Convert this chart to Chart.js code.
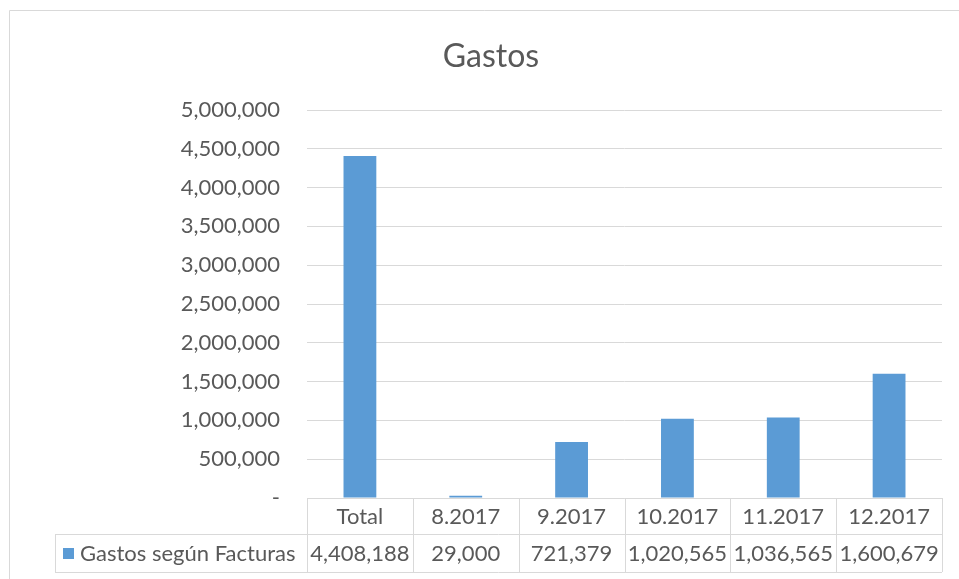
<!DOCTYPE html>
<html>
<head>
<meta charset="utf-8">
<script src="https://cdn.jsdelivr.net/npm/chart.js@4"></script>
<style>
  html, body { margin: 0; padding: 0; background: #fff; }
  #wrap { width: 959px; height: 579px; }
</style>
</head>
<body>
<div id="wrap"><canvas id="gastosChart" width="959" height="579"></canvas></div>
<script>
// Data
const chartTitle = 'Gastos';
const seriesName = 'Gastos según Facturas';
const categories = ['Total', '8.2017', '9.2017', '10.2017', '11.2017', '12.2017'];
const gastos = [4408188, 29000, 721379, 1020565, 1036565, 1600679];
const yMax = 5000000;
const yStep = 500000;

const BAR_COLOR = '#5B9BD5';
const GRID_COLOR = '#d9d9d9';
const TEXT_COLOR = '#595959';
const FONT = 'Lato, "Open Sans", sans-serif';

Chart.defaults.font.family = FONT;
Chart.defaults.color = TEXT_COLOR;

const fmt = v => v.toLocaleString('en-US');

// Frame, title and the data table under the plot
const tablePlugin = {
    id: 'excelTable',
    afterDraw(chart) {
        const ctx = chart.ctx;
        const x = chart.scales.x;
        const area = chart.chartArea;
        const n = categories.length;
        const cellW = (area.right - area.left) / n;
        const top = area.bottom;
        const mid = top + 36;
        const bottom = top + 74;
        const keyLeft = 55;

        ctx.save();
        // outer chart frame
        ctx.strokeStyle = GRID_COLOR;
        ctx.lineWidth = 1;
        ctx.beginPath();
        ctx.moveTo(9.5, 579);
        ctx.lineTo(9.5, 10.5);
        ctx.lineTo(959, 10.5);
        ctx.stroke();

        // title
        ctx.fillStyle = TEXT_COLOR;
        ctx.font = '32px ' + FONT;
        ctx.textAlign = 'center';
        ctx.textBaseline = 'middle';
        ctx.fillText(chartTitle, 491, 57);

        // table lines
        ctx.strokeStyle = GRID_COLOR;
        ctx.beginPath();
        ctx.moveTo(area.left, top + 0.5);
        ctx.lineTo(area.right, top + 0.5);
        ctx.moveTo(keyLeft, mid + 0.5);
        ctx.lineTo(area.right, mid + 0.5);
        ctx.moveTo(keyLeft, bottom + 0.5);
        ctx.lineTo(area.right, bottom + 0.5);
        ctx.moveTo(keyLeft + 0.5, mid);
        ctx.lineTo(keyLeft + 0.5, bottom);
        for (let i = 0; i <= n; i++) {
            const bx = Math.round(area.left + i * cellW) + 0.5;
            ctx.moveTo(bx, top);
            ctx.lineTo(bx, bottom);
        }
        ctx.stroke();

        // header and values
        ctx.font = '22px ' + FONT;
        ctx.fillStyle = TEXT_COLOR;
        ctx.textAlign = 'center';
        categories.forEach((c, i) => {
            const cx = x.getPixelForValue(i);
            ctx.fillText(c, cx, (top + mid) / 2 + 1);
            ctx.fillText(fmt(gastos[i]), cx, (mid + bottom) / 2 + 1);
        });

        // legend key + series name
        ctx.fillStyle = BAR_COLOR;
        ctx.fillRect(63, (mid + bottom) / 2 - 5, 11, 11);
        ctx.fillStyle = TEXT_COLOR;
        ctx.textAlign = 'left';
        ctx.fillText(seriesName, 80, (mid + bottom) / 2 + 1);
        ctx.restore();
    }
};

new Chart(document.getElementById('gastosChart'), {
    type: 'bar',
    data: {
        labels: categories,
        datasets: [{
            label: seriesName,
            data: gastos,
            backgroundColor: BAR_COLOR,
            categoryPercentage: 1,
            barPercentage: 0.31
        }]
    },
    options: {
        responsive: false,
        animation: false,
        layout: { padding: { left: 0, top: 110, right: 17, bottom: 0 } },
        plugins: {
            legend: { display: false },
            title: { display: false },
            tooltip: { enabled: false }
        },
        scales: {
            x: {
                ticks: { display: false },
                grid: { display: false },
                border: { display: false },
                afterFit(scale) { scale.height = 81; }
            },
            y: {
                min: 0,
                max: yMax,
                ticks: {
                    stepSize: yStep,
                    padding: 27,
                    font: { size: 22 },
                    color: TEXT_COLOR,
                    callback: v => (v === 0 ? '-' : fmt(v))
                },
                grid: { color: GRID_COLOR, drawTicks: false },
                border: { display: false },
                afterFit(scale) { scale.width = 307; }
            }
        }
    },
    plugins: [tablePlugin]
});
</script>
</body>
</html>
